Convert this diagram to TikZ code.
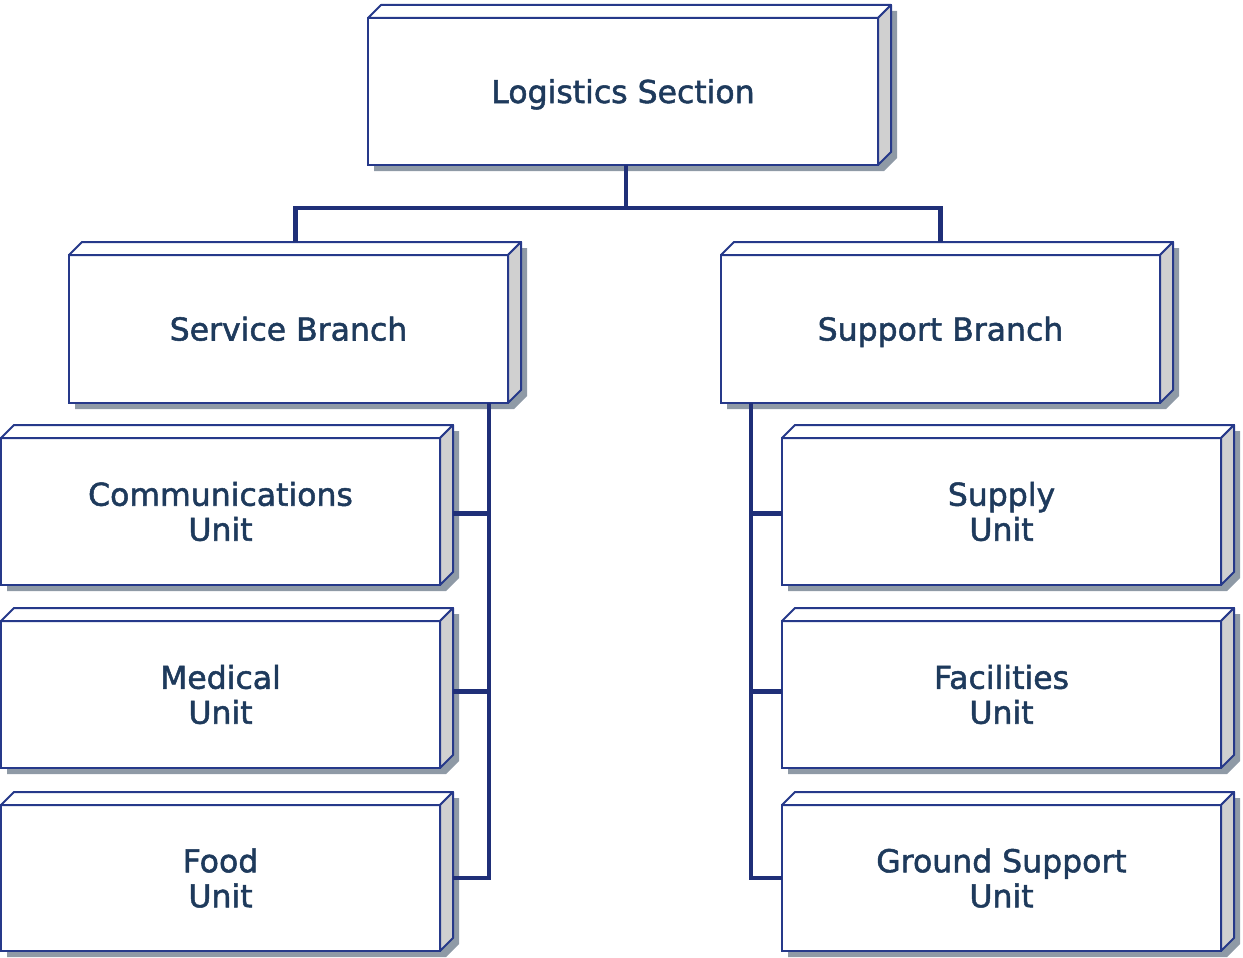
\documentclass[tikz,border=0pt]{standalone}
\usepackage{fontspec}
\setmainfont[FakeBold=1.6]{DejaVu Sans}
\usetikzlibrary{calc}
\definecolor{linec}{HTML}{26398A}
\definecolor{connc}{HTML}{1F2F78}
\definecolor{textc}{HTML}{1E3A5C}
\definecolor{shadowc}{HTML}{8F9AA6}
\definecolor{sidec}{HTML}{D0D0D0}
\tikzset{
  frontbox/.style={draw=linec, line width=2pt, fill=white, inner sep=0pt, outer sep=0pt,
    align=center, text=textc, font=\fontsize{31.5}{35}\selectfont},
  oneline/.style={text height=23pt, text depth=0pt},
  twoline/.style={},
  face/.style={draw=linec, line width=2pt, line join=round},
  conn/.style={draw=connc, line width=4.2pt}
}
\newcommand\cbx[7]{%
  \fill[shadowc] ({#3+6},{#6+6}) -- ({#3+6},{#4+6}) -- ({#3+19},{#4-7}) -- ({#5+19},{#4-7}) -- ({#5+19},{#6-7}) -- ({#5+6},{#6+6}) -- cycle;
  \node[frontbox, #1, minimum width={#5pt-#3pt}, minimum height={#6pt-#4pt}] (#2) at ({(#3+#5)/2},{(#4+#6)/2}) {#7};
  \draw[face, fill=white] (#2.north west) -- ++(13,-13) -- ($(#2.north east)+(13,-13)$) -- (#2.north east) -- cycle;
  \draw[face, fill=sidec] (#2.north east) -- ++(13,-13) -- ($(#2.south east)+(13,-13)$) -- (#2.south east) -- cycle;
}
\begin{document}
\begin{tikzpicture}[x=1pt,y=-1pt]
\useasboundingbox (0,0) rectangle (1243,958);
\cbx{oneline}{log}{368}{18}{878}{165}{Logistics Section}
\cbx{oneline}{svc}{69}{255}{508}{403}{Service Branch}
\cbx{oneline}{sup}{721}{255}{1160}{403}{Support Branch}
\cbx{twoline}{com}{1}{438}{440}{585}{Communications\\Unit}
\cbx{twoline}{med}{1}{621}{440}{768}{Medical\\Unit}
\cbx{twoline}{food}{1}{805}{440}{951}{Food\\Unit}
\cbx{twoline}{sply}{782}{438}{1221}{585}{Supply\\Unit}
\cbx{twoline}{fac}{782}{621}{1221}{768}{Facilities\\Unit}
\cbx{twoline}{gnd}{782}{805}{1221}{951}{Ground Support\\Unit}
% top connectors
\coordinate (logb) at ($(log.south)+(3,0)$);
\coordinate (svct) at ($(svc.north)+(7,-13)$);
\coordinate (supt) at ($(sup.north)+(0,-13)$);
\draw[conn] (logb) -- ++(0,43) coordinate (bar);
\draw[conn] (svct) |- (bar) -| (supt);
% service bus
\coordinate (svcbus) at ($(svc.south east)+(-19,0)$);
\draw[conn] (svcbus) |- ($(food.east)+(13,0)$);
\draw[conn] ($(com.east)+(13,2)$) -- (svcbus |- {$(com.east)+(0,2)$});
\draw[conn] ($(med.east)+(13,-3)$) -- (svcbus |- {$(med.east)+(0,-3)$});
% support bus
\coordinate (supbus) at ($(sup.south west)+(30,0)$);
\draw[conn] (supbus) |- (gnd.west);
\draw[conn] ($(sply.west)+(0,2)$) -- (supbus |- {$(sply.west)+(0,2)$});
\draw[conn] ($(fac.west)+(0,-3)$) -- (supbus |- {$(fac.west)+(0,-3)$});
\end{tikzpicture}
\end{document}
